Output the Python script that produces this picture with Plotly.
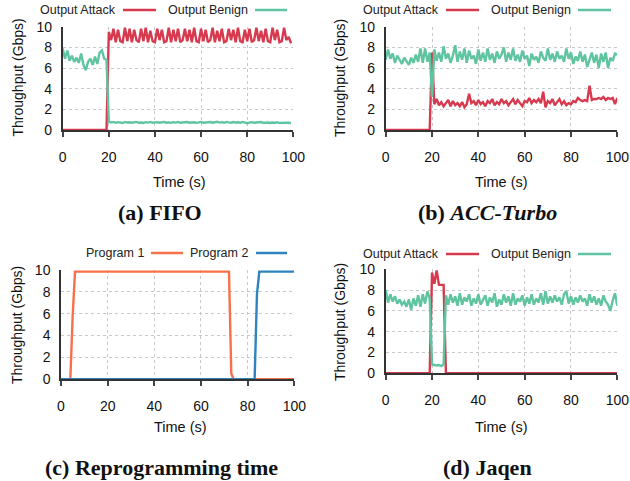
import plotly.graph_objects as go

# ---------------- data (Gbps, 1 s samples) ----------------
fifo_attack = [0.0] * 20 + [
    9.5, 8.7, 9.8, 8.5, 9.7, 8.6, 8.5, 9.9, 8.6, 9.8,
    8.5, 9.7, 8.7, 8.5, 9.8, 8.6, 9.9, 8.5, 9.6, 8.6,
    8.5, 9.8, 8.7, 9.7, 8.5, 8.6, 9.9, 8.5, 9.7, 8.6,
    9.8, 8.5, 8.7, 9.8, 8.6, 9.7, 8.5, 9.9, 8.6, 8.5,
    9.8, 8.6, 9.7, 8.5, 8.7, 9.9, 8.5, 9.6, 8.6, 9.8,
    8.5, 8.6, 9.8, 8.7, 9.7, 8.5, 9.9, 8.6, 8.5, 9.7,
    8.6, 9.8, 8.5, 8.7, 9.9, 8.6, 9.6, 8.5, 9.8, 8.6,
    8.5, 9.9, 8.7, 9.7, 8.5, 8.6, 9.9, 8.7, 9.0, 8.4]
fifo_benign = [
    7.9, 6.9, 7.7, 6.7, 7.2, 6.6, 7.0, 6.5, 7.4, 6.3,
    5.8, 6.6, 6.9, 6.3, 7.1, 6.4, 7.5, 7.7, 6.9, 6.8,
    0.80, 0.72, 0.78, 0.70, 0.76, 0.72, 0.68, 0.78, 0.72, 0.75,
    0.70, 0.74, 0.78, 0.70, 0.73, 0.68, 0.76, 0.72, 0.78, 0.70,
    0.72, 0.76, 0.70, 0.74, 0.78, 0.71, 0.74, 0.69, 0.76, 0.72,
    0.78, 0.70, 0.74, 0.72, 0.77, 0.70, 0.73, 0.75, 0.69, 0.74,
    0.78, 0.71, 0.75, 0.72, 0.77, 0.70, 0.74, 0.80, 0.72, 0.76,
    0.70, 0.78, 0.74, 0.71, 0.77, 0.72, 0.75, 0.70, 0.78, 0.73,
    0.66, 0.72, 0.76, 0.70, 0.74, 0.71, 0.77, 0.69, 0.74, 0.72,
    0.68, 0.73, 0.70, 0.74, 0.69, 0.72, 0.68, 0.71, 0.70, 0.66]

acc_attack = [0.0] * 20 + [
    7.5, 2.5, 3.0, 2.4, 2.7, 2.3, 2.6, 2.9, 2.3, 2.8,
    2.4, 2.6, 2.3, 2.7, 2.2, 2.5, 3.5, 2.6, 2.8, 2.4,
    2.9, 2.5, 2.7, 2.3, 2.8, 2.6, 3.0, 2.4, 2.7, 2.5,
    3.0, 2.6, 2.8, 2.4, 2.7, 3.0, 2.5, 2.9, 2.6, 2.3,
    2.8, 2.7, 3.1, 2.6, 2.9, 2.7, 3.0, 2.6, 3.7, 2.2,
    2.8, 2.6, 3.0, 2.4, 2.7, 3.0, 2.5, 2.8, 2.4, 2.6,
    2.5, 2.8, 2.7, 3.1, 2.9, 2.8, 2.9, 2.8, 4.3, 2.9,
    3.0, 3.0, 3.1, 3.0, 3.2, 2.9, 3.1, 3.0, 3.1, 2.5,
    3.1]
acc_benign = [
    6.8, 7.8, 6.9, 7.4, 6.5, 7.2, 6.8, 6.4, 7.0, 6.6,
    6.3, 7.0, 6.5, 7.3, 6.6, 7.9, 6.5, 7.9, 6.6, 7.5,
    3.2, 7.8, 6.7, 7.5, 6.6, 8.1, 6.9, 7.4, 6.5, 7.2,
    8.2, 6.6, 7.6, 6.8, 7.9, 6.5, 7.7, 6.9, 7.2, 6.4,
    7.8, 6.7, 7.5, 6.6, 7.9, 6.8, 7.4, 6.5, 7.6, 6.9,
    7.3, 8.0, 6.6, 7.5, 6.8, 7.9, 6.7, 7.3, 6.6, 7.7,
    6.9, 7.2, 6.2, 7.4, 6.8, 7.1, 6.5, 7.6, 7.0, 6.7,
    7.9, 6.8, 7.4, 6.6, 7.6, 6.9, 7.2, 6.6, 7.9, 6.9,
    7.5, 6.4, 7.1, 6.7, 7.6, 6.6, 7.3, 6.1, 6.9, 7.5,
    6.5, 7.3, 6.0, 7.4, 6.6, 7.5, 6.0, 7.0, 6.7, 7.4,
    7.3]

prog1 = [0.0] * 5 + [5.8] + [9.85] * 67 + [0.5] + [0.0] * 27
prog2 = [0.0] * 84 + [7.8] + [9.85] * 16

jaqen_attack = [0.0] * 20 + [9.7, 8.6, 9.9, 8.5, 8.5, 8.5] + [0.0] * 75
jaqen_benign = [
    8.0, 6.8, 7.6, 6.9, 7.4, 6.7, 7.1, 6.6, 6.9, 6.4,
    7.1, 6.1, 7.2, 6.5, 7.5, 6.4, 7.6, 6.7, 7.9, 7.2,
    0.85, 0.80, 0.75, 0.80, 0.70, 0.85, 7.5, 6.6, 7.6, 6.8,
    7.4, 6.5, 7.7, 6.6, 7.3, 6.9, 7.6, 6.5, 7.2, 6.7,
    7.6, 6.6, 7.0, 7.5, 6.5, 7.3, 6.8, 7.7, 6.4, 7.1,
    6.6, 7.6, 6.8, 7.4, 6.5, 7.7, 6.6, 7.2, 6.9, 7.5,
    6.5, 7.3, 6.7, 7.6, 6.6, 7.2, 6.8, 7.7, 6.6, 7.9,
    6.7, 7.4, 6.8, 7.5, 6.9, 7.3, 6.6, 7.6, 7.9, 6.7,
    7.4, 6.6, 7.3, 6.8, 7.5, 6.9, 7.2, 6.5, 7.6, 6.8,
    7.4, 6.6, 7.2, 6.5, 7.5, 6.9, 6.6, 6.0, 7.0, 7.7,
    6.5]

x_ticks = [0, 20, 40, 60, 80, 100]
y_ticks = [0, 2, 4, 6, 8, 10]
captions = ["(a) FIFO", "(b) <i>ACC-Turbo</i>", "(c) Reprogramming time", "(d) Jaqen"]

RED = "#d73a4e"
GREEN = "#5fc4a0"
ORANGE = "#f7704a"
BLUE = "#2d84bf"

W, H = 630, 481
def X(px): return px / W
def Y(py): return 1 - py / H

# panel geometry in pixels: (x0, x100, y0, y10)
panels = [
    (62.7, 293.3, 130.0, 26.7),
    (385.7, 617.3, 130.0, 26.7),
    (61.0, 294.3, 379.3, 270.0),
    (385.7, 617.3, 373.3, 269.3),
]

series = [
    [(fifo_attack, RED), (fifo_benign, GREEN)],
    [(acc_attack, RED), (acc_benign, GREEN)],
    [(prog1, ORANGE), (prog2, BLUE)],
    [(jaqen_attack, RED), (jaqen_benign, GREEN)],
]

fig = go.Figure()
SANS = "Liberation Sans, Arial, sans-serif"
for i, (pan, ser) in enumerate(zip(panels, series)):
    n = "" if i == 0 else str(i + 1)
    for vals, col in ser:
        fig.add_trace(go.Scatter(x=list(range(len(vals))), y=vals, mode="lines",
                                 line=dict(color=col, width=2.4),
                                 xaxis="x" + n, yaxis="y" + n, showlegend=False,
                                 hoverinfo="skip"))
    x0, x1, y0, y1 = pan
    common = dict(showline=True, linecolor="#333333", linewidth=1.5, automargin=False,
                  showgrid=True, gridcolor="#c8c8c8", griddash="dot", gridwidth=1,
                  zeroline=False, tickfont=dict(family=SANS, size=14, color="#111"))
    fig.layout["xaxis" + n] = dict(domain=[X(x0), X(x1)], range=[0, 100], anchor="y" + n,
                                   tickvals=x_ticks, ticks="outside", ticklen=5,
                                   tickcolor="#444", tickwidth=1.5,
                                   ticklabelstandoff=8, **common)
    fig.layout["yaxis" + n] = dict(domain=[Y(y0), Y(y1)], range=[0, 10], anchor="x" + n,
                                   tickvals=y_ticks, ticks="", ticklabelstandoff=6,
                                   **common)

ann = []
shapes = []
# axis titles
ytitle_pos = [(17.5, 78), (340, 78), (17, 325), (340, 322)]
xtitle_pos = [(179, 182), (501.5, 182), (180, 427), (502, 427)]
for (yx, yy), (xx, xy) in zip(ytitle_pos, xtitle_pos):
    ann.append(dict(x=X(yx), y=Y(yy), xref="paper", yref="paper", text="Throughput (Gbps)",
                    textangle=-90, showarrow=False, xanchor="center", yanchor="middle",
                    font=dict(family=SANS, size=14, color="#111")))
    ann.append(dict(x=X(xx), y=Y(xy), xref="paper", yref="paper", text="Time (s)",
                    showarrow=False, xanchor="center", yanchor="middle",
                    font=dict(family=SANS, size=14.5, color="#111")))

# legends (gnuplot style: label then sample line)
legends = [
    (10, [("Output Attack", 118, 123, 156, RED), ("Output Benign", 250, 255, 287, GREEN)]),
    (10, [("Output Attack", 441, 446, 479, RED), ("Output Benign", 573, 578, 611, GREEN)]),
    (253, [("Program 1", 146, 151, 183, ORANGE), ("Program 2", 250, 256, 287, BLUE)]),
    (254, [("Output Attack", 441, 446, 479, RED), ("Output Benign", 573, 578, 611, GREEN)]),
]
for ly, items in legends:
    for label, tr, l0, l1, col in items:
        ann.append(dict(x=X(tr), y=Y(ly), xref="paper", yref="paper", text=label,
                        showarrow=False, xanchor="right", yanchor="middle",
                        font=dict(family=SANS, size=12.5, color="#222")))
        shapes.append(dict(type="line", xref="paper", yref="paper",
                           x0=X(l0), x1=X(l1), y0=Y(ly), y1=Y(ly),
                           line=dict(color=col, width=2.5)))

# captions
cap_pos = [(160, 213), (487, 213), (161, 467), (487, 467)]
for (cx, cy), txt in zip(cap_pos, captions):
    ann.append(dict(x=X(cx), y=Y(cy), xref="paper", yref="paper", text="<b>" + txt + "</b>",
                    showarrow=False, xanchor="center", yanchor="middle",
                    font=dict(family="Liberation Serif, Times New Roman, serif", size=22,
                              color="#111")))

fig.update_layout(width=W, height=H, margin=dict(l=0, r=0, t=0, b=0),
                  paper_bgcolor="white", plot_bgcolor="white", showlegend=False,
                  annotations=ann, shapes=shapes)
fig.write_html("out.html", config={"displayModeBar": False},
               post_script="document.body.style.margin='0px';document.body.style.overflow='hidden';")
